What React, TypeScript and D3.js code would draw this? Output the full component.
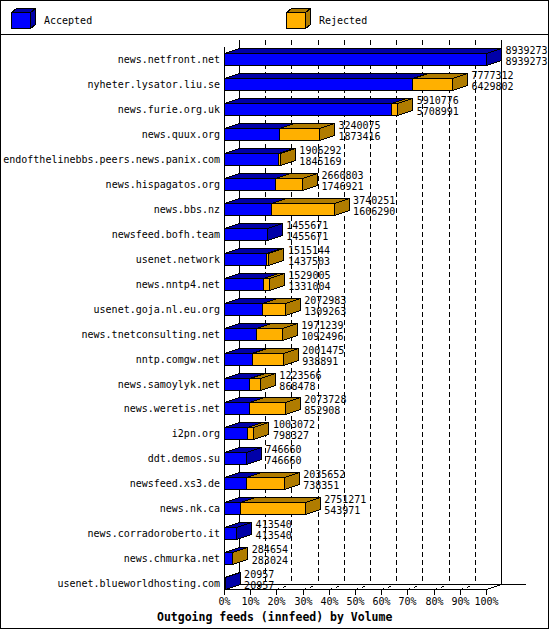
import React from "react";
import * as d3 from "d3";

const categories = [
  "news.netfront.net",
  "nyheter.lysator.liu.se",
  "news.furie.org.uk",
  "news.quux.org",
  "endofthelinebbs.peers.news.panix.com",
  "news.hispagatos.org",
  "news.bbs.nz",
  "newsfeed.bofh.team",
  "usenet.network",
  "news.nntp4.net",
  "usenet.goja.nl.eu.org",
  "news.tnetconsulting.net",
  "nntp.comgw.net",
  "news.samoylyk.net",
  "news.weretis.net",
  "i2pn.org",
  "ddt.demos.su",
  "newsfeed.xs3.de",
  "news.nk.ca",
  "news.corradoroberto.it",
  "news.chmurka.net",
  "usenet.blueworldhosting.com",
];
const totals = [
  8939273, 7777312, 5910776, 3240075, 1906292, 2660803, 3740251, 1455671,
  1515144, 1529005, 2072983, 1971239, 2001475, 1223566, 2073728, 1003072,
  746660, 2035652, 2751271, 413540, 284654, 20957,
];
const accepted = [
  8939273, 6429802, 5708991, 1873416, 1845169, 1746921, 1606290, 1455671,
  1437503, 1331004, 1309263, 1092496, 938891, 868478, 852908, 798327,
  746660, 738351, 543971, 413540, 283024, 20957,
];
const tickPercents = [0, 10, 20, 30, 40, 50, 60, 70, 80, 90, 100];
const seriesNames = ["Accepted", "Rejected"];
const title = "Outgoing feeds (innfeed) by Volume";

const FRONT = ["#0000FF", "#FFB000"];
const DARK = ["#0000A8", "#B07C00"];
const FONT = "'DejaVu Sans Mono', monospace";

export default function App() {
  const W = 550, H = 630;
  const dx = 15, dy = 5;
  const maxV = d3.max(totals) as number;
  const x = d3.scaleLinear().domain([0, maxV]).range([224.5, 486.5]);
  const y = d3.scaleBand<string>().domain(categories).range([47, 47 + 22 * 24.93]);
  const half = 6;
  const floorFront = 589.5, floorBack = 584.5, wallTop = 40;
  const crisp = (v: number) => Math.round(v - 0.5) + 0.5;

  const seg = (x0: number, x1: number, c: number, i: number, side: boolean, key: string) => {
    const t = c - half, b = c + half;
    const top = [[x0, t], [x0 + dx, t - dy], [x1 + dx, t - dy], [x1, t]];
    const sd = [[x1, t], [x1 + dx, t - dy], [x1 + dx, b - dy], [x1, b]];
    const line = d3.line();
    return (
      <g key={key}>
        <rect x={x0} y={t} width={Math.max(0, x1 - x0)} height={b - t} fill={FRONT[i]} stroke="#000" strokeWidth={1} />
        <path d={line(top as any) + "Z"} fill={DARK[i]} stroke="#000" strokeWidth={1} />
        {side && <path d={line(sd as any) + "Z"} fill={DARK[i]} stroke="#000" strokeWidth={1} />}
      </g>
    );
  };

  const tickX = (p: number) => crisp(x((maxV * p) / 100));

  return (
    <svg width={W} height={H} style={{ position: "absolute", left: 0, top: 0, background: "#fff" }} shapeRendering="crispEdges">
      <rect x={0.5} y={0.5} width={548} height={628} fill="#fff" stroke="#000" />
      {/* legend */}
      <line x1={0} x2={549} y1={34.5} y2={34.5} stroke="#000" />
      {seriesNames.map((n, i) => {
        const lx = i === 0 ? 11.5 : 286.5;
        const ty = 12.5, by = 28.5, rx = lx + 19;
        return (
          <g key={n}>
            <rect x={lx} y={ty} width={19} height={16} fill={FRONT[i]} stroke="#000" />
            <path d={`M${lx},${ty}L${lx + 5},${ty - 4}L${rx + 5},${ty - 4}L${rx},${ty}Z`} fill={DARK[i]} stroke="#000" />
            <path d={`M${rx},${ty}L${rx + 5},${ty - 4}L${rx + 5},${by - 4}L${rx},${by}Z`} fill={DARK[i]} stroke="#000" />
            <text x={lx + 32.5} y={23.5} fontFamily={FONT} fontSize={10} fill="#000">{n}</text>
          </g>
        );
      })}

      {/* back wall gridlines */}
      {tickPercents.map((p) => {
        const bx = tickX(p) + dx;
        const solid = p === 0 || p === 100;
        return (
          <line key={"g" + p} x1={bx} x2={bx} y1={wallTop} y2={floorBack} stroke="#000"
            strokeDasharray={solid ? undefined : "5,3"} />
        );
      })}
      {/* floor */}
      <line x1={tickX(0) + dx} x2={526} y1={floorBack} y2={floorBack} stroke="#000" />
      <line x1={tickX(0)} x2={tickX(100)} y1={floorFront} y2={floorFront} stroke="#000" />
      {tickPercents.map((p) => {
        const fx = tickX(p);
        const solid = p === 0 || p === 100;
        return (
          <g key={"f" + p}>
            <line x1={fx} x2={fx + dx} y1={floorFront} y2={floorBack} stroke="#000"
              strokeDasharray={solid ? undefined : "3,4"} />
            <line x1={fx} x2={fx} y1={floorFront} y2={floorFront + 5} stroke="#000" />
            <text x={fx} y={605} textAnchor="middle" fontFamily={FONT} fontSize={10} fill="#000">{p}%</text>
          </g>
        );
      })}

      {/* bars */}
      {categories.map((cat, k) => {
        const c = (y(cat) as number) + y.bandwidth() / 2;
        const x0 = crisp(x(0));
        const xa = x(accepted[k]);
        const xt = x(totals[k]);
        const rej = totals[k] - accepted[k];
        return (
          <g key={cat}>
            {seg(x0, xa, Math.round(c) + 0.5, 0, rej === 0, "a")}
            {rej > 0 && seg(xa, xt, Math.round(c) + 0.5, 1, true, "r")}
          </g>
        );
      })}
      {/* front axis */}
      <line x1={tickX(0)} x2={tickX(0)} y1={47} y2={floorFront} stroke="#000" />

      {/* labels */}
      {categories.map((cat, k) => {
        const c = Math.round((y(cat) as number) + y.bandwidth() / 2) + 0.5;
        const lx = x(totals[k]) + dx + 4;
        return (
          <g key={"l" + cat} fontFamily={FONT} fontSize={10} fill="#000">
            <text x={220} y={c + 3.5} textAnchor="end">{cat}</text>
            <text x={lx} y={c - 6}>{totals[k]}</text>
            <text x={lx} y={c + 5}>{accepted[k]}</text>
          </g>
        );
      })}

      <text x={274.7} y={621} textAnchor="middle" fontFamily={FONT} fontSize={11.5} fontWeight="bold" fill="#000">{title}</text>
    </svg>
  );
}
